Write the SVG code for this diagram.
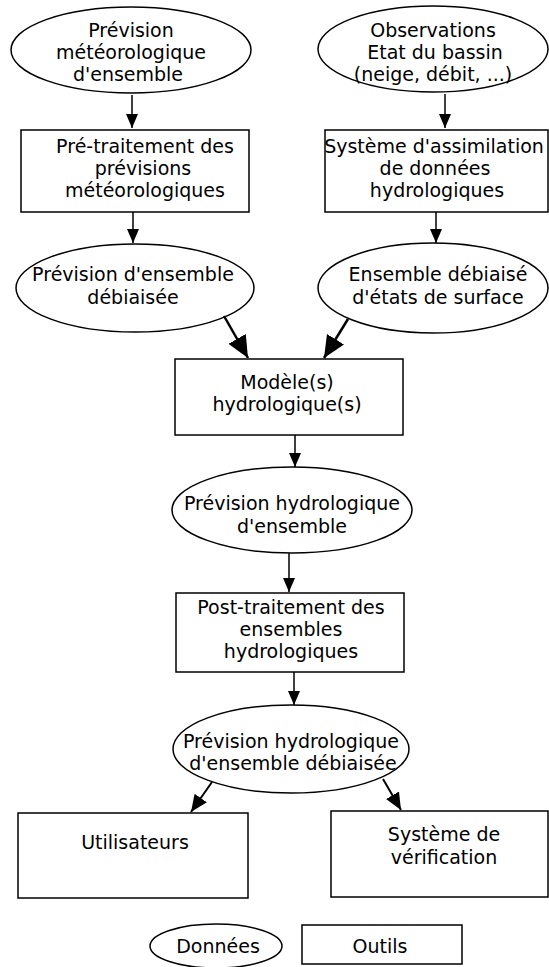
<svg xmlns="http://www.w3.org/2000/svg" width="549" height="967" viewBox="0 0 549 967">
<style>
.n{fill:#fff;stroke:#000;stroke-width:1.5}
text{font-family:"DejaVu Sans",sans-serif;font-size:19px;fill:#000;text-anchor:middle}
.c{fill:none;stroke:#000}
.s{stroke-width:1.5;marker-end:url(#hs)}
.b{stroke-width:2.5;marker-end:url(#hb)}
.m{stroke-width:2;marker-end:url(#hm)}
</style>
<defs>
<marker id="hs" markerUnits="userSpaceOnUse" markerWidth="14" markerHeight="12" refX="14" refY="6" orient="auto"><path d="M0,0 L14,6 L0,12 z" fill="#000"/></marker>
<marker id="hb" markerUnits="userSpaceOnUse" markerWidth="22" markerHeight="20" refX="22" refY="10" orient="auto"><path d="M0,0 L22,10 L0,20 z" fill="#000"/></marker>
<marker id="hm" markerUnits="userSpaceOnUse" markerWidth="17" markerHeight="15" refX="17" refY="7.5" orient="auto"><path d="M0,0 L17,7.5 L0,15 z" fill="#000"/></marker>
</defs>
<rect width="549" height="967" fill="#fff"/>
<g id="meteo">
<ellipse class="n" cx="131" cy="50" rx="120" ry="43"/>
<text x="131" y="37">Prévision</text>
<text x="131" y="59">météorologique</text>
<text x="128" y="81">d'ensemble</text>
</g>
<g id="obs">
<ellipse class="n" cx="433" cy="49" rx="115" ry="43"/>
<text x="433" y="37">Observations</text>
<text x="435" y="59">Etat du bassin</text>
<text x="433" y="81">(neige, débit, ...)</text>
</g>
<g id="pretrait">
<rect class="n" x="21" y="130" width="228" height="82"/>
<text x="145" y="153">Pré-traitement des</text>
<text x="143" y="175">prévisions</text>
<text x="145" y="197">météorologiques</text>
</g>
<g id="assim">
<rect class="n" x="325" y="130" width="223" height="82"/>
<text x="434" y="153">Système d'assimilation</text>
<text x="435" y="175">de données</text>
<text x="437" y="197">hydrologiques</text>
</g>
<g id="prevdeb">
<ellipse class="n" cx="135" cy="288" rx="119" ry="44"/>
<text x="133" y="281">Prévision d'ensemble</text>
<text x="133" y="304">débiaisée</text>
</g>
<g id="ensdeb">
<ellipse class="n" cx="433" cy="288" rx="115" ry="45"/>
<text x="438" y="281">Ensemble débiaisé</text>
<text x="438" y="304">d'états de surface</text>
</g>
<g id="modele">
<rect class="n" x="175" y="359" width="228" height="76"/>
<text x="287" y="389">Modèle(s)</text>
<text x="287" y="411">hydrologique(s)</text>
</g>
<g id="prevhydro">
<ellipse class="n" cx="292" cy="510" rx="120" ry="43"/>
<text x="292" y="510">Prévision hydrologique</text>
<text x="292" y="533">d'ensemble</text>
</g>
<g id="posttrait">
<rect class="n" x="176" y="593" width="228" height="79"/>
<text x="291" y="614">Post-traitement des</text>
<text x="291" y="636">ensembles</text>
<text x="291" y="658">hydrologiques</text>
</g>
<g id="prevhydrodeb">
<ellipse class="n" cx="291" cy="749" rx="118" ry="44"/>
<text x="291" y="748">Prévision hydrologique</text>
<text x="293" y="770">d'ensemble débiaisée</text>
</g>
<g id="utilisateurs">
<rect class="n" x="18" y="813" width="230" height="85"/>
<text x="135" y="849">Utilisateurs</text>
</g>
<g id="verif">
<rect class="n" x="331" y="811" width="217" height="86"/>
<text x="444" y="841">Système de</text>
<text x="444" y="864">vérification</text>
</g>
<g id="legende-donnees">
<ellipse class="n" cx="216" cy="946" rx="66" ry="22"/>
<text x="218" y="953">Données</text>
</g>
<g id="legende-outils">
<rect class="n" x="302" y="925" width="160" height="39"/>
<text x="380" y="953">Outils</text>
</g>
<g id="connectors">
<path class="c s" d="M132,95 L132,128"/>
<path class="c s" d="M445,94 L445,128"/>
<path class="c s" d="M133,212 L133,243"/>
<path class="c s" d="M436,212 L436,243"/>
<path class="c b" d="M224,316 L248,358"/>
<path class="c b" d="M348,319 L324,358"/>
<path class="c s" d="M295,435 L295,467"/>
<path class="c s" d="M289,553 L289,592"/>
<path class="c s" d="M294,672 L294,705"/>
<path class="c m" d="M212,782 L191,812"/>
<path class="c m" d="M383,779 L401,810"/>
</g>
</svg>
